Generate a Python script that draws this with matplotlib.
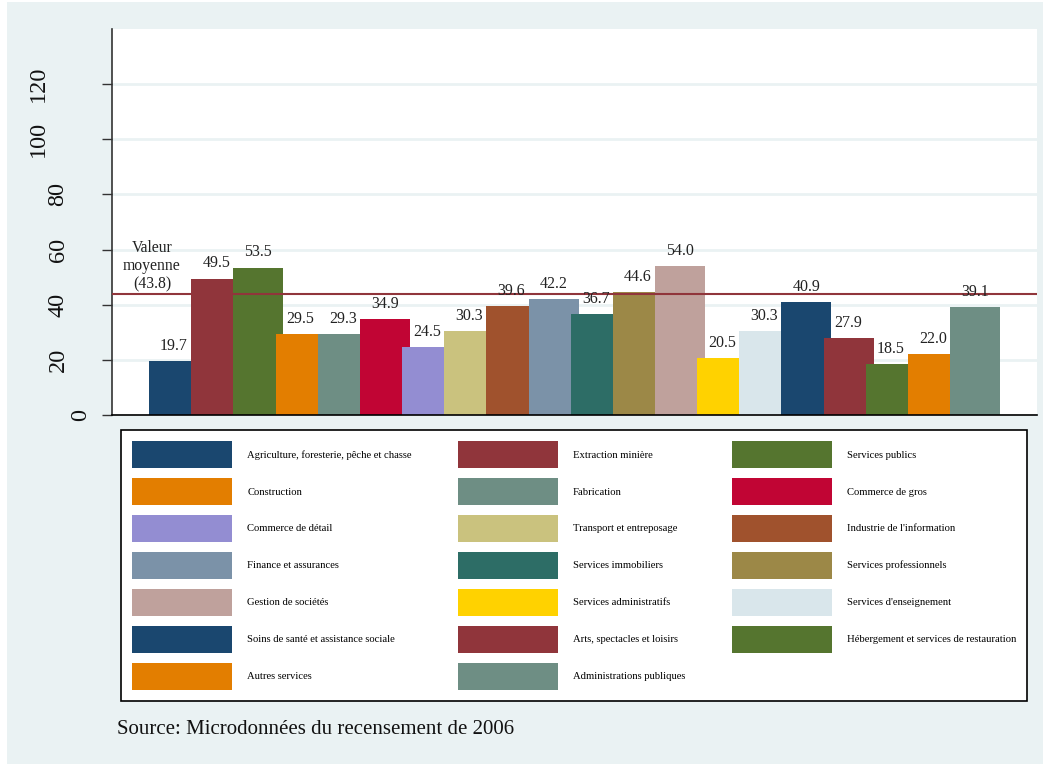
import matplotlib
matplotlib.use("Agg")
from matplotlib import pyplot as plt
from matplotlib import transforms
from matplotlib.patches import Rectangle

plt.rcParams['font.family'] = ['Liberation Serif', 'DejaVu Serif']

# data
industries = ["Agriculture, foresterie, pêche et chasse", "Extraction minière", "Services publics",
              "Construction", "Fabrication", "Commerce de gros",
              "Commerce de détail", "Transport et entreposage", "Industrie de l'information",
              "Finance et assurances", "Services immobiliers", "Services professionnels",
              "Gestion de sociétés", "Services administratifs", "Services d'enseignement",
              "Soins de santé et assistance sociale", "Arts, spectacles et loisirs",
              "Hébergement et services de restauration",
              "Autres services", "Administrations publiques"]
values = [19.7, 49.5, 53.5, 29.5, 29.3, 34.9, 24.5, 30.3, 39.6, 42.2,
          36.7, 44.6, 54.0, 20.5, 30.3, 40.9, 27.9, 18.5, 22.0, 39.1]
mean_val = 43.8
yticks = [0, 20, 40, 60, 80, 100, 120]

colors = ['#1a476f', '#90353b', '#55752f', '#e37e00', '#6e8e84', '#c10534',
          '#938dd2', '#cac27e', '#a0522d', '#7b92a8', '#2d6d66', '#9c8847',
          '#bfa19c', '#ffd200', '#d9e6eb', '#1a476f', '#90353b', '#55752f',
          '#e37e00', '#6e8e84']
bg = '#eaf2f3'

fig = plt.figure(figsize=(10.5, 7.67), dpi=100, facecolor='white')
fig.patches.append(Rectangle((0.0067, 0.004), 0.9866, 0.993, transform=fig.transFigure,
                             facecolor=bg, edgecolor='none', zorder=-10))

ax = fig.add_axes([0.1067, 0.4589, 0.8809, 0.5033])
ax.set_facecolor('white')

bars = []
for i, (v, c, lab) in enumerate(zip(values, colors, industries)):
    b = ax.bar(i, v, width=1.186, align='edge', color=c, edgecolor='none',
               label=lab, zorder=2 + i * 0.01)
    bars.append(b)
    ax.annotate(f"{v:.1f}", (i + 1.186 / 2, v), xytext=(0, 8), textcoords='offset points',
                ha='center', va='baseline', fontsize=11.5, color='#222222', zorder=5)

ax.axhline(mean_val, color='#90353b', lw=1.5, zorder=4)
ax.annotate(f"Valeur\nmoyenne\n({mean_val:.1f})", (0.07, mean_val), xytext=(0, 1.2),
            textcoords='offset points', ha='center', va='bottom', fontsize=11.3,
            linespacing=1.2, color='#222222')

ax.set_xlim(-0.878, 21.06)
ax.set_ylim(0, 140)
ax.set_xticks([])
ax.set_yticks(yticks)
ax.set_yticklabels([])
ax.tick_params(axis='y', length=7, width=1, color='#333333')
ax.yaxis.grid(True, color=bg, lw=2)
ax.set_axisbelow(True)
for s in ['top', 'right']:
    ax.spines[s].set_visible(False)
ax.spines['left'].set_color('#333333')
ax.spines['left'].set_linewidth(1.2)
ax.spines['bottom'].set_color('black')
ax.spines['bottom'].set_linewidth(1.2)

# rotated tick labels, shifted like the original layout
shift = {1: 31, 2: 54, 3: 74}
for t in yticks:
    s = str(t)
    tr = transforms.offset_copy(ax.get_yaxis_transform(), fig=fig, x=-shift[len(s)], y=0, units='dots')
    ax.text(0, t, s, transform=tr, rotation=90, ha='center', va='center', fontsize=17.5,
            color='#111111')

# legend in row-major order
order = [i for c in range(3) for i in range(c, len(values), 3)]
handles = [bars[i] for i in order]
labels = [industries[i] for i in order]
leg = fig.legend(handles, labels, ncol=3, mode='expand', loc='upper left',
                 bbox_to_anchor=(0.1152, 0.0847, 0.863, 0.3547),
                 fontsize=7.7, handlelength=9.35, handleheight=3.5, handletextpad=1.4,
                 labelspacing=0.93, borderpad=1.05, borderaxespad=0, fancybox=False,
                 framealpha=1, edgecolor='black')
leg.get_frame().set_linewidth(1.2)

fig.text(117 / 1050, 1 - 729 / 767, "Source: Microdonnées du recensement de 2006",
         ha='left', va='center', fontsize=15, color='#111111')

fig.savefig('out.png', dpi=100, facecolor=fig.get_facecolor())
